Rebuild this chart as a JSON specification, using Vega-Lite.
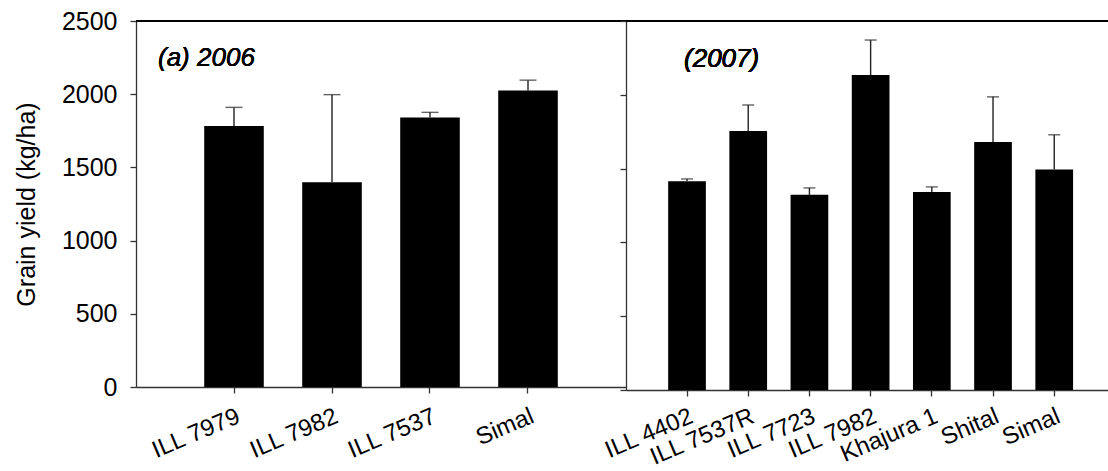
{
  "$schema": "https://vega.github.io/schema/vega-lite/v6.json",
  "background": "white",
  "padding": {"left": 14, "top": 9, "right": 0, "bottom": 0},
  "bounds": "flush",
  "spacing": 0,
  "config": {
    "font": "Liberation Sans",
    "view": {"stroke": null},
    "axis": {"grid": false, "domainColor": "#333333", "tickColor": "#333333", "labelColor": "black", "titleColor": "black", "labelFont": "Liberation Sans", "titleFont": "Liberation Sans", "labelFontSize": 25, "titleFontSize": 25, "titleFontWeight": "normal", "tickSize": 6, "domainWidth": 1.3, "tickWidth": 1.3}
  },
  "datasets": {
    "y2006": [
      {"cultivar": "ILL 7979", "yield": 1782, "upper": 1910},
      {"cultivar": "ILL 7982", "yield": 1398, "upper": 1997},
      {"cultivar": "ILL 7537", "yield": 1840, "upper": 1876},
      {"cultivar": "Simal", "yield": 2026, "upper": 2096}
    ],
    "y2007": [
      {"cultivar": "ILL 4402", "yield": 1415, "upper": 1430},
      {"cultivar": "ILL 7537R", "yield": 1754, "upper": 1931},
      {"cultivar": "ILL 7723", "yield": 1322, "upper": 1369},
      {"cultivar": "ILL 7982", "yield": 2134, "upper": 2371},
      {"cultivar": "Khajura 1", "yield": 1342, "upper": 1376},
      {"cultivar": "Shital", "yield": 1681, "upper": 1986},
      {"cultivar": "Simal", "yield": 1494, "upper": 1729}
    ]
  },
  "hconcat": [
    {
      "width": 490,
      "height": 366,
      "data": {"name": "y2006"},
      "encoding": {
        "x": {"field": "cultivar", "type": "nominal", "sort": null,
          "scale": {"paddingInner": 0.392, "paddingOuter": 0.696},
          "axis": {"title": null, "labelAngle": -23, "labelFontSize": 24, "labelAlign": "right", "labelBaseline": "top", "labelPadding": 11, "labelOverlap": false, "labelBound": false}}
      },
      "layer": [
        {
          "mark": {"type": "bar", "color": "black"},
          "encoding": {
            "y": {"field": "yield", "type": "quantitative",
              "scale": {"domain": [0, 2500], "nice": false},
              "axis": {"title": "Grain yield (kg/ha)", "format": "d", "values": [0, 500, 1000, 1500, 2000, 2500], "labelPadding": 13, "titlePadding": 22}}
          }
        },
        {
          "mark": {"type": "rule", "color": "#222222", "strokeWidth": 1.4},
          "encoding": {"y": {"field": "yield", "type": "quantitative"}, "y2": {"field": "upper"}}
        },
        {
          "mark": {"type": "tick", "color": "#222222", "size": 17, "thickness": 1.4, "orient": "horizontal"},
          "encoding": {"y": {"field": "upper", "type": "quantitative"}}
        },
        {
          "mark": {"type": "rule", "color": "black", "strokeWidth": 1.3},
          "encoding": {"y": {"datum": 2500}, "x": null}
        },
        {
          "mark": {"type": "text", "align": "left", "baseline": "middle", "fontStyle": "italic", "fontWeight": "normal", "fontSize": 26, "dx": -76},
          "encoding": {"x": {"datum": "ILL 7979"}, "y": {"datum": 2250}, "text": {"value": "(a) 2006"}}
        }
      ]
    },
    {
      "width": 483,
      "height": 369,
      "data": {"name": "y2007"},
      "encoding": {
        "x": {"field": "cultivar", "type": "nominal", "sort": null,
          "scale": {"paddingInner": 0.384, "paddingOuter": 0.638, "align": 0.54},
          "axis": {"title": null, "labelAngle": -23, "labelFontSize": 24, "labelAlign": "right", "labelBaseline": "top", "labelPadding": 8, "labelOverlap": false, "labelBound": false}}
      },
      "layer": [
        {
          "mark": {"type": "bar", "color": "black"},
          "encoding": {
            "y": {"field": "yield", "type": "quantitative",
              "scale": {"domain": [0, 2500], "nice": false},
              "axis": {"title": null, "labels": false, "values": [0, 500, 1000, 1500, 2000, 2500]}}
          }
        },
        {
          "mark": {"type": "rule", "color": "#222222", "strokeWidth": 1.4},
          "encoding": {"y": {"field": "yield", "type": "quantitative"}, "y2": {"field": "upper"}}
        },
        {
          "mark": {"type": "tick", "color": "#222222", "size": 12, "thickness": 1.4, "orient": "horizontal"},
          "encoding": {"y": {"field": "upper", "type": "quantitative"}}
        },
        {
          "mark": {"type": "rule", "color": "black", "strokeWidth": 1.3},
          "encoding": {"y": {"datum": 2500}, "x": null}
        },
        {
          "mark": {"type": "text", "align": "left", "baseline": "middle", "fontStyle": "italic", "fontWeight": "normal", "fontSize": 26, "dx": -3},
          "encoding": {"x": {"datum": "ILL 4402"}, "y": {"datum": 2240}, "text": {"value": "(2007)"}}
        }
      ]
    }
  ]
}
